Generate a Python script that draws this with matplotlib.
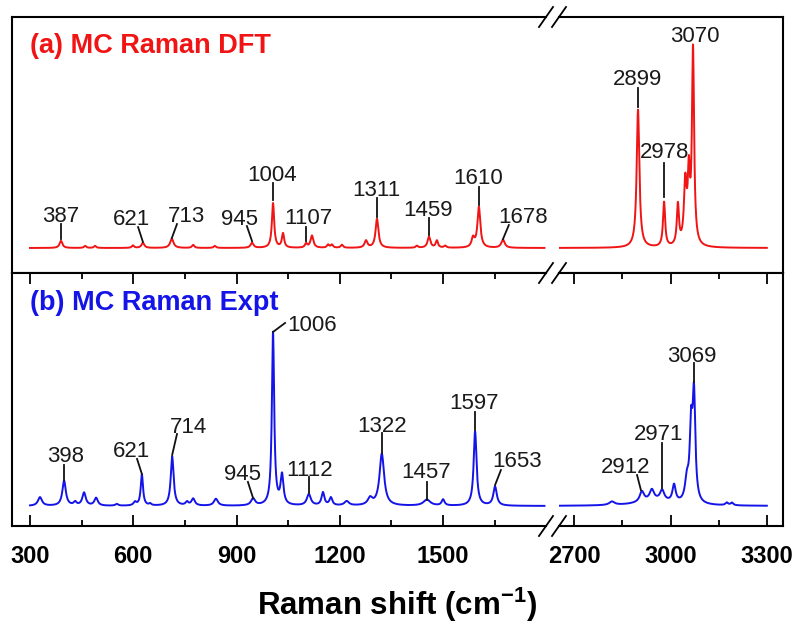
import numpy as np
import matplotlib.pyplot as plt
from matplotlib.lines import Line2D

plt.rcParams['font.family'] = 'Liberation Sans'
plt.rcParams['mathtext.fontset'] = 'custom'
plt.rcParams['mathtext.rm'] = 'Liberation Sans:bold'
plt.rcParams['mathtext.bf'] = 'Liberation Sans:bold'

# --- datos (intensidad normalizada) ---
# (a) DFT: posicion del pico, altura, semi-anchura
dft_pos = [390, 460, 489, 599, 628, 712, 774, 837, 945, 1006, 1035, 1102, 1119,
           1166, 1177, 1206, 1276, 1308, 1424, 1459, 1482, 1506, 1587, 1604, 1674,
           2899, 2980, 3023, 3046, 3057, 3070]
dft_height = [0.035, 0.01, 0.01, 0.012, 0.025, 0.045, 0.015, 0.01, 0.025, 0.22, 0.07,
              0.02, 0.06, 0.015, 0.015, 0.015, 0.035, 0.143, 0.01, 0.055, 0.035, 0.01,
              0.045, 0.2, 0.04, 0.68, 0.22, 0.2, 0.3, 0.32, 0.96]
dft_width = [5, 4, 4, 4, 5, 6, 4, 4, 5, 4, 4, 4, 5, 4, 4, 4, 5, 5, 4, 5, 4, 4,
             5, 5, 6, 5, 4, 4, 5, 4, 4]

# (b) Experimental
expt_pos = [329, 399, 431, 457, 492, 552, 605, 625, 649, 713, 756, 774, 840, 948,
            1006, 1032, 1110, 1151, 1174, 1220, 1288, 1322, 1453, 1500, 1593, 1651,
            2818, 2911, 2942, 2974, 2950, 3011, 3051, 3064, 3073, 3175, 3191]
expt_height = [0.05, 0.145, 0.02, 0.075, 0.045, 0.01, 0.02, 0.18, 0.01, 0.285, 0.02,
               0.04, 0.04, 0.04, 1.0, 0.17, 0.065, 0.075, 0.045, 0.025, 0.04, 0.30,
               0.035, 0.035, 0.43, 0.11, 0.02, 0.06, 0.06, 0.06, 0.03, 0.1, 0.12,
               0.4, 0.6, 0.015, 0.015]
expt_width = [7, 6, 5, 6, 6, 5, 5, 4, 4, 5, 5, 6, 7, 7, 4, 5, 7, 5, 5, 8, 8, 8,
              12, 5, 5, 6, 10, 8, 8, 8, 60, 6, 7, 5, 5, 5, 5]

# etiquetas de los picos
dft_labels = ['387', '621', '713', '945', '1004', '1107', '1311', '1459', '1610',
              '1678', '2899', '2978', '3070']
expt_labels = ['398', '621', '714', '945', '1006', '1112', '1322', '1457', '1597',
               '1653', '2912', '2971', '3069']

# posicion de cada etiqueta: (x0, y0, x1, y1) de la linea y (xt, yt) del texto
dft_lines = [(390, 0.044, 390, 0.118), (628, 0.030, 614, 0.103), (712, 0.049, 727, 0.118),
             (945, 0.034, 930, 0.108), (1006, 0.236, 1006, 0.320), (1102, 0.034, 1102, 0.103),
             (1308, 0.153, 1308, 0.246), (1459, 0.064, 1459, 0.148), (1604, 0.212, 1604, 0.300),
             (1674, 0.044, 1691, 0.113), (2899, 0.695, 2899, 0.788), (2980, 0.251, 2980, 0.419),
             None]
dft_text = [(390, 0.128), (596, 0.113), (756, 0.128), (910, 0.113), (1003, 0.330),
            (1108, 0.118), (1305, 0.256), (1456, 0.158), (1601, 0.315), (1732, 0.123),
            (2896, 0.803), (2983, 0.443), (3076, 1.015)]
expt_lines = [(399, 0.150, 399, 0.237), (625, 0.185, 611, 0.272), (713, 0.295, 727, 0.416),
              (948, 0.046, 933, 0.139), (1006, 1.006, 1041, 1.058), (1110, 0.075, 1110, 0.168),
              (1322, 0.306, 1322, 0.422), (1453, 0.035, 1453, 0.139), (1593, 0.439, 1593, 0.543),
              (1651, 0.121, 1668, 0.208), (2908, 0.092, 2896, 0.179), (2974, 0.104, 2974, 0.364),
              (3073, 0.717, 3073, 0.827)]
expt_text = [(402, 0.254), (596, 0.283), (759, 0.422), (916, 0.150), (1047, 1.012),
             (1113, 0.173), (1322, 0.428), (1450, 0.162), (1590, 0.561), (1715, 0.225),
             (2862, 0.191), (2964, 0.382), (3067, 0.832)]
expt_ha = ['center'] * 4 + ['left'] + ['center'] * 8

ROJO = '#f01414'
AZUL = '#1414e8'


def espectro(x, pos, alt, anc):
    """Suma de lorentzianas con los picos leidos"""
    y = np.zeros_like(x)
    for p, h, w in zip(pos, alt, anc):
        y += h / (1 + ((x - p) / w) ** 2)
    return y


x_izq = np.arange(300, 1795, 0.5)
x_der = np.arange(2655, 3300, 0.5)

W, H = 798, 627
fig = plt.figure(figsize=(W / 100, H / 100), dpi=100)


def caja(x0, x1, y0, y1):
    return [x0 / W, 1 - y1 / H, (x1 - x0) / W, (y1 - y0) / H]


XL0, XL1, XR0, XR1 = 12, 546, 559, 783
YT0, YM, YB1 = 17, 273, 526

ax_tl = fig.add_axes(caja(XL0, XL1, YT0, YM))
ax_tr = fig.add_axes(caja(XR0, XR1, YT0, YM))
ax_bl = fig.add_axes(caja(XL0, XL1, YM, YB1))
ax_br = fig.add_axes(caja(XR0, XR1, YM, YB1))

lim_izq = (300 - 18 * 2.905, 300 + (XL1 - 30) * 2.905)
lim_der = (2700 - (574 - XR0) * 3.108, 3300 + (XR1 - 767) * 3.108)

for ax in (ax_tl, ax_tr):
    ax.set_ylim(-25 / 203, 231 / 203)
for ax in (ax_bl, ax_br):
    ax.set_ylim(-20 / 173, 233 / 173)
for ax in (ax_tl, ax_bl):
    ax.set_xlim(*lim_izq)
    ax.spines['right'].set_visible(False)
    ax.set_xticks([300, 600, 900, 1200, 1500])
    ax.set_xticks([450, 750, 1050, 1350, 1650], minor=True)
for ax in (ax_tr, ax_br):
    ax.set_xlim(*lim_der)
    ax.spines['left'].set_visible(False)
    ax.set_xticks([2700, 3000, 3300])
    ax.set_xticks([2850, 3150], minor=True)

for ax in (ax_tl, ax_tr, ax_bl, ax_br):
    for s in ax.spines.values():
        s.set_linewidth(1.5)
    ax.set_yticks([])

for ax in (ax_tl, ax_tr):
    ax.tick_params(axis='x', which='both', bottom=False, labelbottom=False)
for ax in (ax_bl, ax_br):
    ax.tick_params(axis='x', which='both', direction='in', top=True, bottom=True, width=1.3)
    ax.tick_params(axis='x', which='major', length=8, pad=13.5)
    ax.tick_params(axis='x', which='minor', length=4.5)
    for t in ax.get_xticklabels():
        t.set_fontsize(17)
        t.set_fontweight('bold')

# curvas
ax_tl.plot(x_izq, espectro(x_izq, dft_pos, dft_height, dft_width), color=ROJO, lw=1.4)
ax_tr.plot(x_der, espectro(x_der, dft_pos, dft_height, dft_width), color=ROJO, lw=1.4)
ax_bl.plot(x_izq, espectro(x_izq, expt_pos, expt_height, expt_width), color=AZUL, lw=1.4)
ax_br.plot(x_der, espectro(x_der, expt_pos, expt_height, expt_width), color=AZUL, lw=1.4)


def etiquetas(ax_a, ax_b, textos, lineas, pos_txt, has):
    for lab, ln, (xt, yt), ha in zip(textos, lineas, pos_txt, has):
        ax = ax_a if xt < 2000 else ax_b
        if ln is not None:
            ax.plot([ln[0], ln[2]], [ln[1], ln[3]], color='#111111', lw=1.3)
        ax.text(xt, yt, lab, ha=ha, va='baseline', fontsize=16, color='#1a1a1a')


etiquetas(ax_tl, ax_tr, dft_labels, dft_lines, dft_text, ['center'] * len(dft_labels))
etiquetas(ax_bl, ax_br, expt_labels, expt_lines, expt_text, expt_ha)

# titulos de cada panel
fig.text(30 / W, 1 - 53 / H, '(a) MC Raman DFT', color=ROJO, fontsize=19.5,
         fontweight='bold', va='baseline')
fig.text(30 / W, 1 - 310 / H, '(b) MC Raman Expt', color=AZUL, fontsize=19.5,
         fontweight='bold', va='baseline')

fig.text(397 / W, 1 - 615 / H, r'Raman shift (cm$^{\mathbf{-1}}$)', fontsize=22.5,
         fontweight='bold', ha='center', va='baseline')

# marcas de corte //
for yc in (YT0, YM, YB1):
    for xc in (XL1, XR0):
        fig.add_artist(Line2D([(xc - 7) / W, (xc + 7) / W],
                              [1 - (yc + 10) / H, 1 - (yc - 10) / H],
                              transform=fig.transFigure, color='black', lw=1.3))

plt.savefig('out.png', dpi=100)
plt.close()
